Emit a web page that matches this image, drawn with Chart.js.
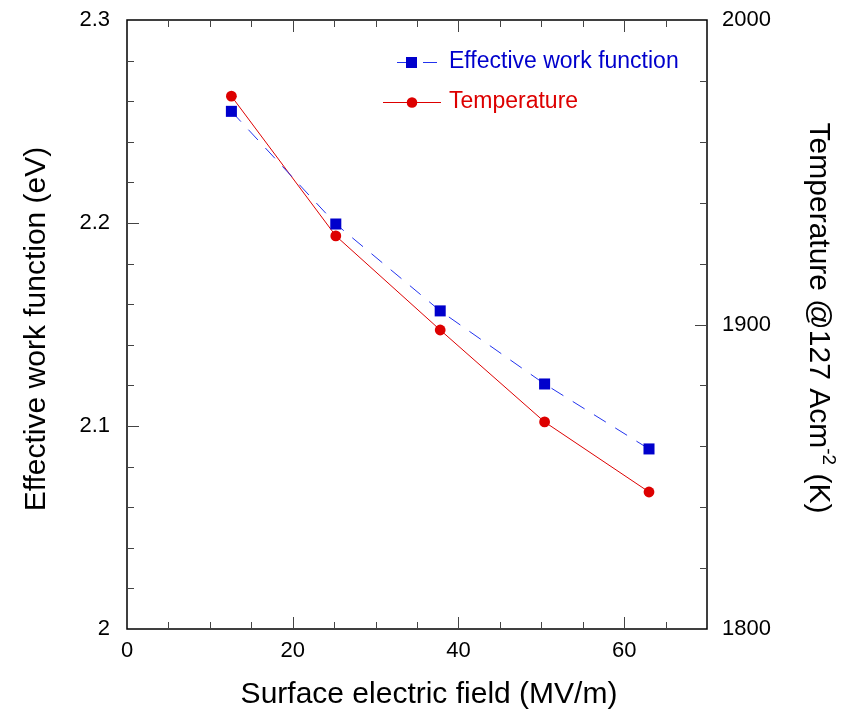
<!DOCTYPE html>
<html>
<head>
<meta charset="utf-8">
<script src="https://cdn.jsdelivr.net/npm/chart.js@4/dist/chart.umd.min.js"></script>
<style>
html,body{margin:0;padding:0;background:#fff;}
#wrap{width:850px;height:712px;}
</style>
</head>
<body>
<div id="wrap"><canvas id="c" width="850" height="712"></canvas></div>
<script>
// ---- data ----
const fieldMVm = [12.6, 25.2, 37.8, 50.4, 63.0];
const workFunction = [2.255, 2.1995, 2.1567, 2.1207, 2.0887];
const temperature = [1975.0, 1929.1, 1898.2, 1868.0, 1845.0];
const xTickLabels = ['0', '20', '40', '60'];
const xTitle = 'Surface electric field (MV/m)';
const yTitle = 'Effective work function (eV)';
const y1TitleMain = 'Temperature @127 Acm';
const y1TitleSup = '-2';
const y1TitleEnd = ' (K)';
const seriesNames = ['Effective work function', 'Temperature'];

const FONT = '"Liberation Sans", Arial, Helvetica, sans-serif';
const BLUE = '#0000cc';
const BLUE_LINE = '#2233ee';
const RED = '#dd0000';

const frame = {
  id: 'frame',
  afterDraw(chart) {
    const ctx = chart.ctx;
    const a = chart.chartArea;
    const x = chart.scales.x, y = chart.scales.y, y1 = chart.scales.y1;
    ctx.save();
    ctx.strokeStyle = '#000';
    ctx.lineWidth = 1.5;
    ctx.strokeRect(a.left, a.top, a.right - a.left, a.bottom - a.top);
    ctx.lineWidth = 1;
    ctx.strokeStyle = '#444';
    ctx.beginPath();
    for (let v = 5; v < 70; v += 5) {
      const px = Math.round(x.getPixelForValue(v)) + 0.5;
      const len = (v % 20 === 0) ? 12 : 7;
      ctx.moveTo(px, a.bottom); ctx.lineTo(px, a.bottom - len);
      ctx.moveTo(px, a.top); ctx.lineTo(px, a.top + len);
    }
    for (let i = 1; i < 15; i++) {
      const v = 2 + i * 0.02;
      const py = Math.round(y.getPixelForValue(v)) + 0.5;
      const len = (i % 5 === 0) ? 12 : 7;
      ctx.moveTo(a.left, py); ctx.lineTo(a.left + len, py);
    }
    for (let i = 1; i < 10; i++) {
      const v = 1800 + i * 20;
      const py = Math.round(y1.getPixelForValue(v)) + 0.5;
      const len = (i % 5 === 0) ? 12 : 7;
      ctx.moveTo(a.right, py); ctx.lineTo(a.right - len, py);
    }
    ctx.stroke();

    // axis titles
    ctx.fillStyle = '#000';
    ctx.font = '30px ' + FONT;
    ctx.textAlign = 'center';
    ctx.textBaseline = 'alphabetic';
    ctx.fillText(xTitle, 429, 703);
    ctx.save();
    ctx.translate(45, 329);
    ctx.rotate(-Math.PI / 2);
    ctx.fillText(yTitle, 0, 0);
    ctx.restore();
    // right title rotated clockwise with superscript
    ctx.save();
    ctx.translate(810, 318);
    ctx.rotate(Math.PI / 2);
    ctx.font = '30px ' + FONT;
    const w1 = ctx.measureText(y1TitleMain).width;
    const w3 = ctx.measureText(y1TitleEnd).width;
    ctx.font = '19px ' + FONT;
    const w2 = ctx.measureText(y1TitleSup).width;
    const total = w1 + w2 + w3;
    let sx = -total / 2;
    ctx.textAlign = 'left';
    ctx.font = '30px ' + FONT;
    ctx.fillText(y1TitleMain, sx, 0);
    sx += w1;
    ctx.font = '19px ' + FONT;
    ctx.fillText(y1TitleSup, sx, -13);
    sx += w2;
    ctx.font = '30px ' + FONT;
    ctx.fillText(y1TitleEnd, sx, 0);
    ctx.restore();

    // legend
    ctx.font = '23px ' + FONT;
    ctx.textAlign = 'left';
    ctx.textBaseline = 'middle';
    ctx.strokeStyle = BLUE_LINE; ctx.lineWidth = 1;
    ctx.beginPath();
    ctx.moveTo(397, 62.5); ctx.lineTo(407, 62.5);
    ctx.moveTo(423, 62.5); ctx.lineTo(437, 62.5);
    ctx.stroke();
    ctx.fillStyle = BLUE;
    ctx.fillRect(406, 57, 11, 11);
    ctx.fillText(seriesNames[0], 449, 62);
    ctx.strokeStyle = RED;
    ctx.beginPath();
    ctx.moveTo(383, 102.5); ctx.lineTo(441, 102.5);
    ctx.stroke();
    ctx.fillStyle = RED;
    ctx.beginPath(); ctx.arc(412, 102.5, 5.3, 0, Math.PI * 2); ctx.fill();
    ctx.fillText(seriesNames[1], 449, 102);
    ctx.restore();
  }
};

const tickFont = {family: FONT, size: 22};

new Chart(document.getElementById('c'), {
  type: 'scatter',
  data: {
    datasets: [
      {
        label: seriesNames[0],
        data: fieldMVm.map((v, i) => ({x: v, y: workFunction[i]})),
        yAxisID: 'y',
        showLine: true,
        borderColor: BLUE_LINE,
        borderWidth: 1,
        borderDash: [14, 11],
        backgroundColor: BLUE,
        pointBackgroundColor: BLUE,
        pointBorderColor: BLUE,
        pointStyle: 'rect',
        pointRadius: 7.8,
        pointBorderWidth: 0,
        tension: 0
      },
      {
        label: seriesNames[1],
        data: fieldMVm.map((v, i) => ({x: v, y: temperature[i]})),
        yAxisID: 'y1',
        showLine: true,
        borderColor: RED,
        borderWidth: 1,
        backgroundColor: RED,
        pointBackgroundColor: RED,
        pointBorderColor: RED,
        pointStyle: 'circle',
        pointRadius: 5.4,
        pointBorderWidth: 0,
        tension: 0
      }
    ]
  },
  options: {
    responsive: false,
    animation: false,
    events: [],
    layout: {padding: {top: 20, left: 0, right: 0, bottom: 0}},
    plugins: {legend: {display: false}, tooltip: {enabled: false}},
    scales: {
      x: {
        type: 'linear', min: 0, max: 70,
        grid: {display: false, drawTicks: false},
        border: {display: false},
        ticks: {stepSize: 20, padding: 9, color: '#000', font: tickFont, maxRotation: 0,
          callback: v => xTickLabels.includes(String(v)) ? String(v) : ''},
        afterFit(s) { s.height = 83; s.paddingLeft = 0; s.paddingRight = 0; }
      },
      y: {
        type: 'linear', position: 'left', min: 2, max: 2.3,
        grid: {display: false, drawTicks: false},
        border: {display: false},
        ticks: {stepSize: 0.1, padding: 17, color: '#000', font: tickFont,
          callback: v => String(Math.round(v * 10) / 10)},
        afterFit(s) { s.width = 127; s.paddingTop = 0; s.paddingBottom = 0; }
      },
      y1: {
        type: 'linear', position: 'right', min: 1800, max: 2000,
        grid: {display: false, drawTicks: false},
        border: {display: false},
        ticks: {stepSize: 100, padding: 15, color: '#000', font: tickFont,
          callback: v => String(v)},
        afterFit(s) { s.width = 143; s.paddingTop = 0; s.paddingBottom = 0; }
      }
    }
  },
  plugins: [frame]
});
</script>
</body>
</html>
